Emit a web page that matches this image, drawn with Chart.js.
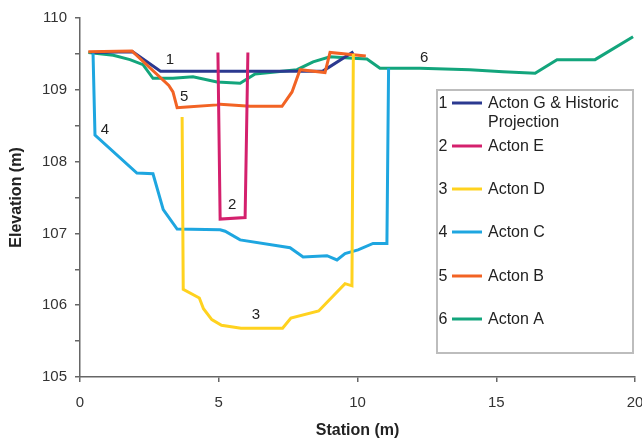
<!DOCTYPE html>
<html>
<head>
<meta charset="utf-8">
<script src="https://cdn.jsdelivr.net/npm/chart.js@4/dist/chart.umd.min.js"></script>
<style>
  html, body { margin: 0; padding: 0; background: #fff; }
  #wrap { position: relative; width: 642px; height: 440px; }
</style>
</head>
<body>
<div id="wrap"><canvas id="c" width="642" height="440"></canvas></div>
<script>
// ---- Data (station m, elevation m) ----
const seriesNames = ["Acton G & Historic Projection", "Acton E", "Acton D", "Acton C", "Acton B", "Acton A"];
const seriesNumbers = ["1", "2", "3", "4", "5", "6"];

const stationG = [0.4, 1.9, 2.9, 8.75, 9.85];
const elevG    = [109.52, 109.53, 109.26, 109.26, 109.53];

const stationE = [4.97, 5.05, 5.95, 6.05];
const elevE    = [109.52, 107.2, 107.22, 109.52];

const stationD = [3.68, 3.72, 4.3, 4.45, 4.75, 5.1, 5.8, 7.3, 7.6, 8.6, 9.55, 9.8, 9.85];
const elevD    = [108.62, 106.22, 106.1, 105.95, 105.8, 105.72, 105.68, 105.68, 105.82, 105.92, 106.3, 106.27, 109.5];

const stationC = [0.47, 0.54, 2.05, 2.63, 3.0, 3.5, 5.05, 5.23, 5.77, 7.57, 8.04, 8.9, 9.26, 9.55, 10.02, 10.56, 11.06, 11.12];
const elevC    = [109.51, 108.37, 107.84, 107.83, 107.33, 107.06, 107.05, 107.03, 106.91, 106.8, 106.67, 106.69, 106.63, 106.72, 106.77, 106.86, 106.86, 109.3];

const stationB = [0.3, 1.87, 3.2, 3.35, 3.5, 3.85, 4.94, 5.05, 6.13, 7.28, 7.64, 7.93, 8.83, 9.01, 10.3];
const elevB    = [109.53, 109.54, 109.06, 108.97, 108.75, 108.76, 108.79, 108.8, 108.77, 108.77, 108.97, 109.28, 109.24, 109.52, 109.47];

const stationA = [0.3, 1.2, 1.8, 2.27, 2.63, 3.35, 4.07, 4.94, 5.77, 6.31, 7.82, 8.4, 9.01, 9.84, 10.34, 10.81, 12.25, 14.05, 15.24, 16.4, 17.19, 18.56, 19.93];
const elevA    = [109.52, 109.48, 109.42, 109.35, 109.16, 109.16, 109.18, 109.11, 109.09, 109.22, 109.28, 109.39, 109.46, 109.44, 109.43, 109.3, 109.3, 109.28, 109.25, 109.23, 109.42, 109.42, 109.74];

const xTicks = [0, 5, 10, 15, 20];
const yTickLabels = [105, 106, 107, 108, 109, 110];

// in-plot curve number labels [station, elevation]
const curveLabelPos = [[3.24, 109.42], [5.48, 107.4], [6.34, 105.86], [0.9, 108.44], [3.75, 108.9], [12.4, 109.44]];

const colors = ["#2b3990", "#d4206d", "#ffd21f", "#1ea6e0", "#f26324", "#13a57c"];
const stations = [stationG, stationE, stationD, stationC, stationB, stationA];
const elevs = [elevG, elevE, elevD, elevC, elevB, elevA];
const drawOrder = [5, 1, 2, 3, 4, 6];

const datasets = seriesNames.map((n, i) => ({
  label: n,
  data: stations[i].map((s, k) => ({ x: s, y: elevs[i][k] })),
  borderColor: colors[i],
  backgroundColor: colors[i],
  borderWidth: 3,
  pointRadius: 0,
  fill: false,
  tension: 0,
  order: drawOrder[i]
}));

const FONT = "'Liberation Sans', Arial, sans-serif";

const annot = {
  id: 'annot',
  afterDatasetsDraw(chart) {
    const ctx = chart.ctx;
    const xs = chart.scales.x, ys = chart.scales.y;
    ctx.save();
    ctx.font = "15px " + FONT;
    ctx.fillStyle = "#222";
    ctx.textAlign = "center";
    ctx.textBaseline = "middle";
    curveLabelPos.forEach((p, i) => {
      ctx.fillText(seriesNumbers[i], xs.getPixelForValue(p[0]), ys.getPixelForValue(p[1]));
    });
    // legend box
    const bx = 437, by = 90, bw = 196, bh = 263;
    ctx.fillStyle = "#fff";
    ctx.fillRect(bx, by, bw, bh);
    ctx.strokeStyle = "#bdbdbd";
    ctx.lineWidth = 2;
    ctx.strokeRect(bx, by, bw, bh);
    const rows = [104, 147, 190, 233, 277, 320];
    ctx.font = "16px " + FONT;
    rows.forEach((yy, i) => {
      ctx.fillStyle = "#222";
      ctx.textAlign = "center";
      ctx.fillText(seriesNumbers[i], 443, yy);
      ctx.strokeStyle = colors[i];
      ctx.lineWidth = 3;
      ctx.beginPath();
      ctx.moveTo(452, yy - 1);
      ctx.lineTo(482, yy - 1);
      ctx.stroke();
      ctx.textAlign = "left";
      ctx.fillStyle = "#222";
      if (i === 0) {
        ctx.fillText("Acton G & Historic", 488, yy);
        ctx.fillText("Projection", 488, yy + 19);
      } else {
        ctx.fillText(seriesNames[i], 488, yy);
      }
    });
    ctx.restore();
  }
};

new Chart(document.getElementById('c'), {
  type: 'line',
  data: { datasets },
  options: {
    responsive: false,
    animation: false,
    layout: { padding: { left: 0, right: 7, top: 18, bottom: 0 } },
    plugins: { legend: { display: false }, tooltip: { enabled: false } },
    scales: {
      x: {
        type: 'linear',
        min: 0, max: 20,
        afterBuildTicks(s) { s.ticks = xTicks.map(v => ({ value: v })); },
        afterFit(s) { s.height = 63; s.paddingLeft = 0; s.paddingRight = 0; },
        ticks: { color: '#333', font: { family: FONT, size: 15 }, padding: 12, maxRotation: 0 },
        grid: { display: true, drawOnChartArea: false, drawTicks: true, tickLength: 5, color: '#666', lineWidth: 1.5 },
        border: { display: true, color: '#666', width: 1.5 },
        title: { display: true, text: 'Station (m)', color: '#222', font: { family: FONT, size: 16, weight: 'bold' }, padding: { top: 4, bottom: 0 } }
      },
      y: {
        min: 105, max: 110,
        ticks: {
          stepSize: 0.5,
          color: '#333', font: { family: FONT, size: 15 }, padding: 8,
          callback: (v) => yTickLabels.includes(v) ? String(v) : ''
        },
        afterFit(s) { s.width = 80; s.paddingTop = 0; s.paddingBottom = 0; },
        grid: { display: true, drawOnChartArea: false, drawTicks: true, tickLength: 5, color: '#666', lineWidth: 1.5 },
        border: { display: true, color: '#666', width: 1.5 },
        title: { display: true, text: 'Elevation (m)', color: '#222', font: { family: FONT, size: 16, weight: 'bold' }, padding: { top: 7, bottom: 4 } }
      }
    }
  },
  plugins: [annot]
});
</script>
</body>
</html>
